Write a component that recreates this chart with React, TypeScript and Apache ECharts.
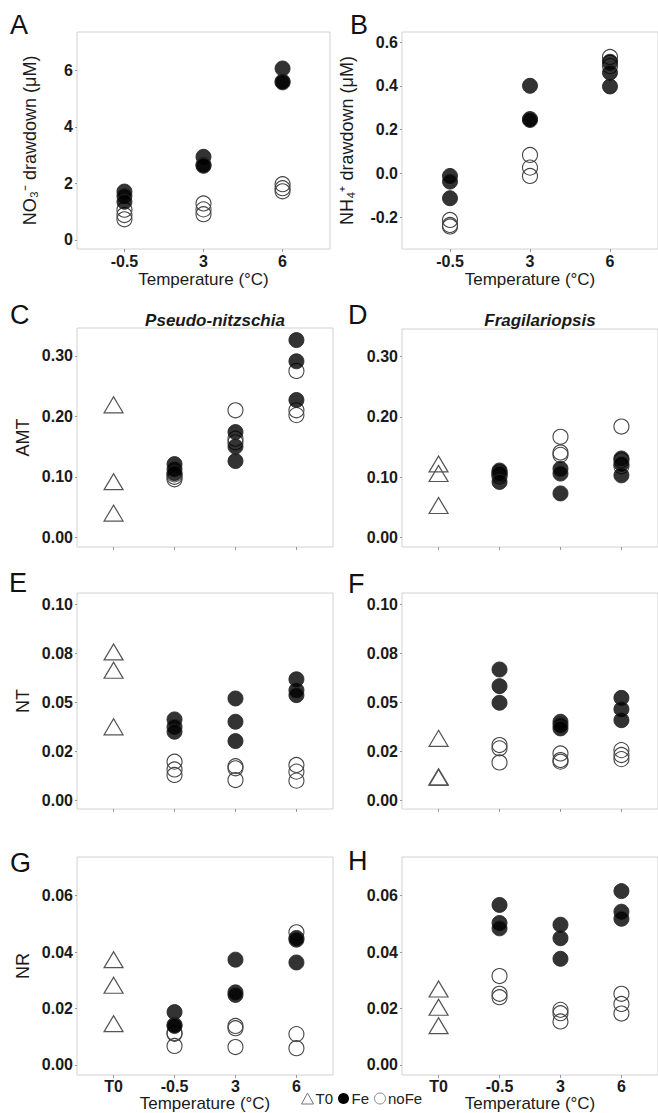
import React, { useEffect, useRef } from "react";
import * as echarts from "echarts";

// ---------- categories & tick labels ----------
const catsTemp = ["-0.5", "3", "6"];
const catsAll = ["T0", "-0.5", "3", "6"];

const ticksA = [0, 2, 4, 6];
const labelsA = ["0", "2", "4", "6"];
const ticksB = [-0.2, 0, 0.2, 0.4, 0.6];
const labelsB = ["-0.2", "0.0", "0.2", "0.4", "0.6"];
const ticksAMT = [0, 0.1, 0.2, 0.3];
const labelsAMT = ["0.00", "0.10", "0.20", "0.30"];
const ticksNT = [0, 0.025, 0.05, 0.075, 0.1];
const labelsNT = ["0.00", "0.02", "0.05", "0.08", "0.10"];
const ticksNR = [0, 0.02, 0.04, 0.06];
const labelsNR = ["0.00", "0.02", "0.04", "0.06"];

// ---------- data (grouped by temperature category: -0.5, 3, 6) ----------
const A_Fe = [[1.71, 1.55, 1.35], [2.94, 2.66, 2.62], [6.06, 5.6, 5.57]];
const A_noFe = [[1.07, 0.88, 0.73], [1.29, 1.08, 0.91], [1.97, 1.83, 1.72]];

const B_Fe = [[-0.012, -0.038, -0.114], [0.4, 0.248, 0.244], [0.51, 0.46, 0.397]];
const B_noFe = [[-0.213, -0.243, -0.236], [0.084, 0.026, -0.012], [0.532, 0.505, 0.49]];

const C_T0 = [0.219, 0.092, 0.04];
const C_Fe = [[0.121, 0.113, 0.106], [0.174, 0.15, 0.126], [0.326, 0.291, 0.227]];
const C_noFe = [[0.1, 0.096, 0.104], [0.21, 0.163, 0.157], [0.275, 0.21, 0.202]];

const D_T0 = [0.122, 0.106, 0.053];
const D_Fe = [[0.111, 0.106, 0.092], [0.114, 0.106, 0.073], [0.131, 0.122, 0.103]];
const D_noFe = [[0.104, 0.108, 0.101], [0.167, 0.141, 0.137], [0.184, 0.128, 0.118]];

const E_T0 = [0.0757, 0.0663, 0.0374];
const E_Fe = [[0.0412, 0.0374, 0.0349], [0.0519, 0.04, 0.0301], [0.0617, 0.0561, 0.0536]];
const E_noFe = [[0.0196, 0.0156, 0.0128], [0.0173, 0.0162, 0.0102], [0.0179, 0.0145, 0.0099]];

const F_T0 = [0.0315, 0.0119, 0.0115];
const F_Fe = [[0.0667, 0.0582, 0.0497], [0.04, 0.0383, 0.0366], [0.0522, 0.0464, 0.0408]];
const F_noFe = [[0.0281, 0.0264, 0.0192], [0.0238, 0.0204, 0.0196], [0.0255, 0.023, 0.0209]];

const G_T0 = [0.0373, 0.0282, 0.0146];
const G_Fe = [[0.0187, 0.0142, 0.0138], [0.0373, 0.0257, 0.0248], [0.045, 0.0444, 0.0363]];
const G_noFe = [[0.0113, 0.011, 0.0067], [0.0138, 0.013, 0.0063], [0.047, 0.0109, 0.0059]];

const H_T0 = [0.0269, 0.0204, 0.0139];
const H_Fe = [[0.0567, 0.0503, 0.0484], [0.0497, 0.0449, 0.0376], [0.0616, 0.0543, 0.0518]];
const H_noFe = [[0.0315, 0.0252, 0.024], [0.0195, 0.0183, 0.0154], [0.0252, 0.0216, 0.0182]];

const FONT = "'Liberation Sans', Arial, Helvetica, sans-serif";

type Panel = {
  letter: string;
  lx: number;
  ly: number;
  grid: [number, number, number, number];
  cats: string[];
  yMin: number;
  yMax: number;
  ticks: number[];
  labels: string[];
  yName: string;
  yNameGap: number;
  showXLabels: boolean;
  xName: boolean;
  xLabelMargin: number;
  xNameGap: number;
  t0: number[] | null;
  fe: number[][];
  nofe: number[][];
};

const panels: Panel[] = [
  { letter: "A", lx: 10, ly: 25, grid: [77, 32, 253, 217], cats: catsTemp, yMin: -0.32, yMax: 7.35, ticks: ticksA, labels: labelsA, yName: "NO₃⁻ drawdown (μM)", yNameGap: 38, showXLabels: true, xName: true, xLabelMargin: 4, xNameGap: 22, t0: null, fe: A_Fe, nofe: A_noFe },
  { letter: "B", lx: 350, ly: 25, grid: [402, 32, 256, 217], cats: catsTemp, yMin: -0.346, yMax: 0.646, ticks: ticksB, labels: labelsB, yName: "NH₄⁺ drawdown (μM)", yNameGap: 46, showXLabels: true, xName: true, xLabelMargin: 4, xNameGap: 22, t0: null, fe: B_Fe, nofe: B_noFe },
  { letter: "C", lx: 10, ly: 315, grid: [77, 328, 256, 219], cats: catsAll, yMin: -0.016, yMax: 0.346, ticks: ticksAMT, labels: labelsAMT, yName: "AMT", yNameGap: 45, showXLabels: false, xName: false, xLabelMargin: 4, xNameGap: 22, t0: C_T0, fe: C_Fe, nofe: C_noFe },
  { letter: "D", lx: 348, ly: 315, grid: [402, 329, 256, 218], cats: catsAll, yMin: -0.016, yMax: 0.346, ticks: ticksAMT, labels: labelsAMT, yName: "", yNameGap: 43, showXLabels: false, xName: false, xLabelMargin: 4, xNameGap: 22, t0: D_T0, fe: D_Fe, nofe: D_noFe },
  { letter: "E", lx: 9, ly: 583, grid: [77, 593, 256, 216], cats: catsAll, yMin: -0.0046, yMax: 0.1058, ticks: ticksNT, labels: labelsNT, yName: "NT", yNameGap: 45, showXLabels: false, xName: false, xLabelMargin: 4, xNameGap: 22, t0: E_T0, fe: E_Fe, nofe: E_noFe },
  { letter: "F", lx: 348, ly: 584, grid: [402, 593, 256, 216], cats: catsAll, yMin: -0.0046, yMax: 0.1058, ticks: ticksNT, labels: labelsNT, yName: "", yNameGap: 43, showXLabels: false, xName: false, xLabelMargin: 4, xNameGap: 22, t0: F_T0, fe: F_Fe, nofe: F_noFe },
  { letter: "G", lx: 10, ly: 863, grid: [77, 857, 256, 218], cats: catsAll, yMin: -0.0036, yMax: 0.0737, ticks: ticksNR, labels: labelsNR, yName: "NR", yNameGap: 45, showXLabels: true, xName: true, xLabelMargin: 3, xNameGap: 19, t0: G_T0, fe: G_Fe, nofe: G_noFe },
  { letter: "H", lx: 348, ly: 861, grid: [402, 857, 256, 218], cats: catsAll, yMin: -0.0036, yMax: 0.0737, ticks: ticksNR, labels: labelsNR, yName: "", yNameGap: 43, showXLabels: true, xName: true, xLabelMargin: 3, xNameGap: 19, t0: H_T0, fe: H_Fe, nofe: H_noFe },
];

function toPoints(groups: number[][], offset: number): number[][] {
  const out: number[][] = [];
  groups.forEach((vals, i) => {
    vals.forEach((v) => out.push([i + 1 + offset, v]));
  });
  return out;
}

function buildOption() {
  const grids: any[] = [];
  const xAxes: any[] = [];
  const yAxes: any[] = [];
  const series: any[] = [];
  const graphics: any[] = [];

  panels.forEach((p, idx) => {
    const [left, top, width, height] = p.grid;
    grids.push({
      left, top, width, height,
      show: true,
      borderColor: "#d2d2d2",
      borderWidth: 1,
      backgroundColor: "#ffffff",
      containLabel: false,
    });
    const n = p.cats.length;
    const xVals = p.cats.map((_, i) => i + 1);
    xAxes.push({
      type: "value",
      gridIndex: idx,
      position: "bottom",
      min: 0.4,
      max: n + 0.6,
      axisLine: { show: false, onZero: false },
      splitLine: { show: false },
      axisTick: { show: true, customValues: xVals, length: 3, lineStyle: { color: "#999" } },
      axisLabel: {
        show: p.showXLabels,
        customValues: xVals,
        margin: p.xLabelMargin,
        fontFamily: FONT,
        fontSize: 16,
        fontWeight: "bold",
        color: "#1a1a1a",
        formatter: (v: number) => p.cats[Math.round(v) - 1] ?? "",
      },
      name: p.xName ? "Temperature (°C)" : "",
      nameLocation: "middle",
      nameGap: p.xNameGap,
      nameTextStyle: { fontFamily: FONT, fontSize: 17, color: "#1a1a1a" },
    });
    yAxes.push({
      type: "value",
      gridIndex: idx,
      position: "left",
      min: p.yMin,
      max: p.yMax,
      axisLine: { show: false, onZero: false },
      splitLine: { show: false },
      axisTick: { show: true, customValues: p.ticks, length: 2, lineStyle: { color: "#999" } },
      axisLabel: {
        customValues: p.ticks,
        margin: 4,
        fontFamily: FONT,
        fontSize: 16,
        fontWeight: "bold",
        color: "#1a1a1a",
        formatter: (v: number) => {
          const i = p.ticks.findIndex((t) => Math.abs(t - v) < 1e-9);
          return i >= 0 ? p.labels[i] : "";
        },
      },
      name: p.yName,
      nameLocation: "middle",
      nameRotate: 90,
      nameGap: p.yNameGap,
      nameTextStyle: { fontFamily: FONT, fontSize: 18, color: "#1a1a1a" },
    });

    const offset = p.t0 ? 1 : 0;
    if (p.t0) {
      series.push({
        name: "T0",
        type: "scatter",
        xAxisIndex: idx,
        yAxisIndex: idx,
        symbol: "triangle",
        symbolSize: [19, 16],
        data: p.t0.map((v) => [1, v]),
        itemStyle: { color: "rgba(255,255,255,0)", borderColor: "#555", borderWidth: 1.2, opacity: 1 },
        z: 2,
      });
    }
    series.push({
      name: "noFe",
      type: "scatter",
      xAxisIndex: idx,
      yAxisIndex: idx,
      symbol: "circle",
      symbolSize: 15,
      data: toPoints(p.nofe, offset),
      itemStyle: { color: "rgba(255,255,255,0)", borderColor: "#444", borderWidth: 1.1, opacity: 1 },
      z: 3,
    });
    series.push({
      name: "Fe",
      type: "scatter",
      xAxisIndex: idx,
      yAxisIndex: idx,
      symbol: "circle",
      symbolSize: 15,
      data: toPoints(p.fe, offset),
      itemStyle: { color: "rgba(0,0,0,0.8)", borderColor: "rgba(40,40,40,0.9)", borderWidth: 1, opacity: 1 },
      z: 4,
    });

    graphics.push({
      type: "text",
      left: p.lx,
      top: p.ly - 14,
      style: { text: p.letter, fontFamily: FONT, fontSize: 27, fill: "#111" },
    });
  });

  graphics.push({
    type: "text",
    x: 215,
    y: 320,
    style: {
      text: "Pseudo-nitzschia",
      fontFamily: FONT,
      fontSize: 17,
      fontWeight: "bold",
      fontStyle: "italic",
      fill: "#1a1a1a",
      align: "center",
      verticalAlign: "middle",
    },
  });
  graphics.push({
    type: "text",
    x: 540,
    y: 320,
    style: {
      text: "Fragilariopsis",
      fontFamily: FONT,
      fontSize: 17,
      fontWeight: "bold",
      fontStyle: "italic",
      fill: "#1a1a1a",
      align: "center",
      verticalAlign: "middle",
    },
  });

  return {
    animation: false,
    backgroundColor: "#ffffff",
    grid: grids,
    xAxis: xAxes,
    yAxis: yAxes,
    series,
    legend: {
      left: 301,
      top: 1091,
      padding: 0,
      itemGap: 5,
      itemWidth: 12,
      itemHeight: 11,
      textStyle: { fontFamily: FONT, fontSize: 15, color: "#222", padding: [0, 0, 0, -3] },
      selectedMode: false,
      data: [
        { name: "T0", icon: "triangle", itemStyle: { color: "rgba(255,255,255,0)", borderColor: "#777", borderWidth: 1, opacity: 1 } },
        { name: "Fe", icon: "circle", itemStyle: { color: "#000", borderColor: "#000", borderWidth: 0, opacity: 1 } },
        { name: "noFe", icon: "circle", itemStyle: { color: "rgba(255,255,255,0)", borderColor: "#888", borderWidth: 1, opacity: 1 } },
      ],
    },
    graphic: graphics,
  };
}

export default function App() {
  const ref = useRef<HTMLDivElement>(null);
  useEffect(() => {
    if (!ref.current) return;
    const chart = echarts.init(ref.current, null, { renderer: "svg" });
    chart.setOption(buildOption() as any);
    return () => chart.dispose();
  }, []);
  return (
    <div
      ref={ref}
      style={{ position: "absolute", left: 0, top: 0, width: 658, height: 1113, background: "#fff" }}
    />
  );
}
